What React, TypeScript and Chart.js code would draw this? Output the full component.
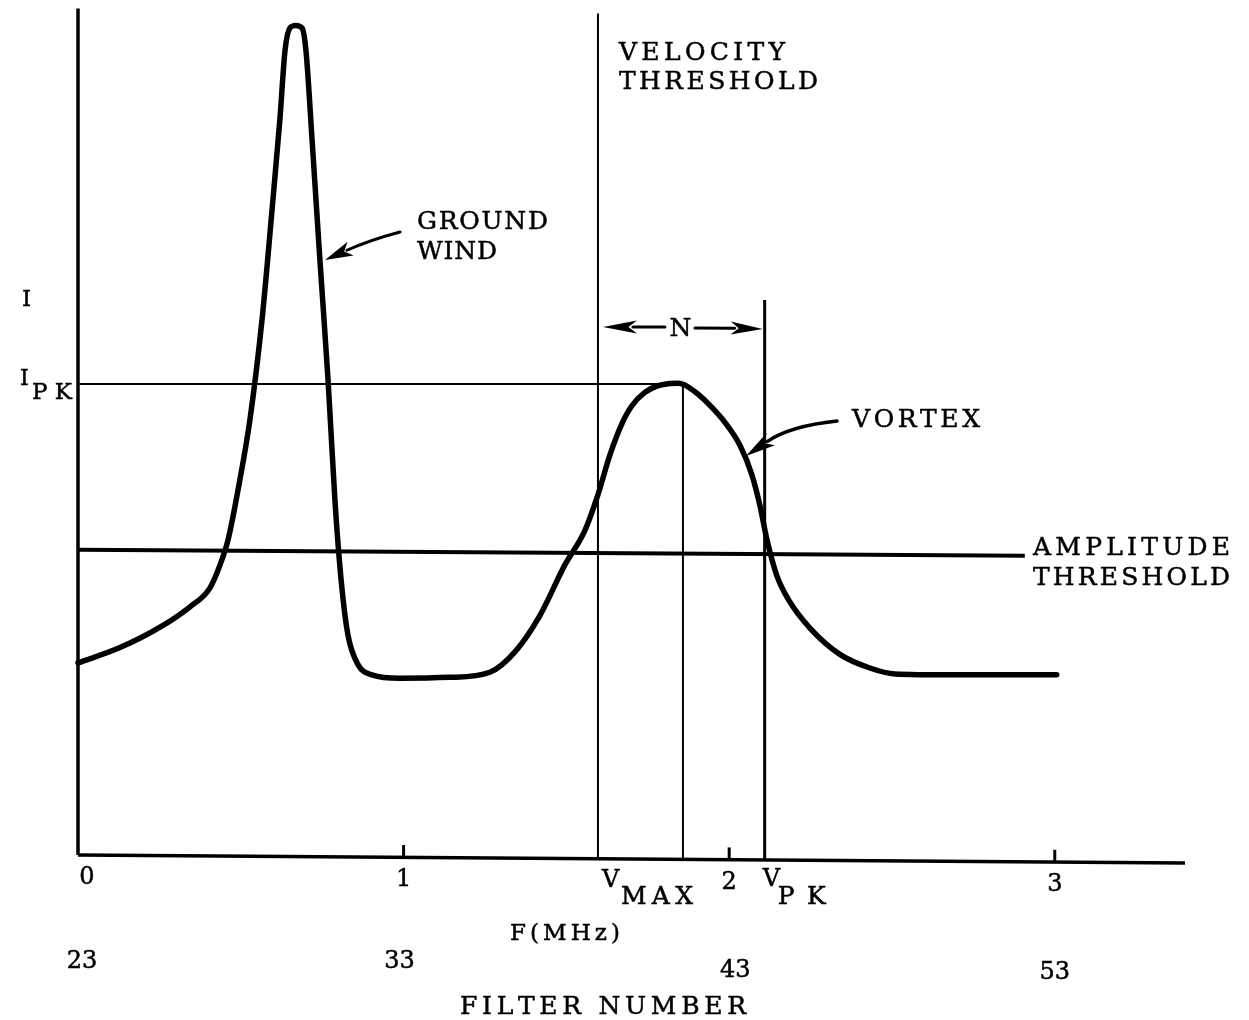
import React, { useEffect, useRef } from "react";
import { Chart, registerables } from "chart.js";

Chart.register(...registerables);

const WIDTH = 1249;
const HEIGHT = 1020;

// Detector output versus Doppler frequency (MHz); intensity as percent of plot height
const responseFreq = [
  0, 0.129, 0.252, 0.344, 0.405, 0.436, 0.461, 0.497, 0.528, 0.565, 0.596, 0.62, 0.636, 0.651,
  0.669, 0.688, 0.7, 0.719, 0.743, 0.768, 0.789, 0.808, 0.829, 0.86, 0.903, 0.989, 1.142, 1.265,
  1.342, 1.419, 1.495, 1.557, 1.597, 1.634, 1.67, 1.7, 1.74, 1.78, 1.812, 1.845, 1.895, 1.941,
  1.987, 2.033, 2.07, 2.094, 2.116, 2.146, 2.186, 2.248, 2.34, 2.432, 2.509, 2.678, 3.006,
];
const responseIntensity = [
  22.6, 24.4, 26.8, 29.2, 31.4, 34.1, 37.1, 44.1, 51.2, 62.9, 75.9, 86.5, 94.7, 97.3, 97.6, 97.3,
  94.7, 84.1, 70.0, 55.9, 41.8, 32.4, 25.9, 22.4, 21.2, 20.8, 20.9, 21.5, 23.9, 28.2, 34.1, 38.2,
  42.4, 47.1, 50.7, 52.8, 54.4, 55.2, 55.45, 55.5, 54.5, 52.9, 50.9, 48.2, 44.7, 41.2, 37.1, 32.9,
  29.8, 26.7, 23.6, 22.0, 21.3, 21.2, 21.2,
];

// Thresholds and peak markers
const amplitudeThresholdFreq = [0, 2.908];
const amplitudeThresholdLevel = [35.9, 35.2];
const velocityThresholdFreq = 1.597;
const velocityThresholdTop = 99.0;
const peakFreq = 1.858;
const peakIntensity = 55.4;
const vPeakFreq = 2.109;
const vPeakTop = 65.3;

// Axes
const freqMax = 3.4;
const axisTop = 99.6;
const baselineDrop = -0.95; // the frequency axis runs slightly downhill to the right
const freqTicks = [0, 1, 2, 3];
const freqTickLabels = ["0", "1", "2", "3"];
const filterNumbers = ["23", "33", "43", "53"];

const axisLevel = (f: number) => (baselineDrop * f) / freqMax;

const seg = (x1: number, y1: number, x2: number, y2: number, w: number) => ({
  data: [
    { x: x1, y: y1 },
    { x: x2, y: y2 },
  ],
  borderColor: "#000",
  borderWidth: w,
  pointRadius: 0,
  borderCapStyle: "butt" as const,
  clip: false as const,
});

const SERIF = '"DejaVu Serif", "Liberation Serif", serif';

function spaced(
  ctx: CanvasRenderingContext2D,
  text: string,
  left: number,
  baseline: number,
  width: number,
  size: number,
  family = SERIF
) {
  ctx.font = `${size}px ${family}`;
  const chars = Array.from(text);
  const ws = chars.map((c) => ctx.measureText(c).width);
  const total = ws.reduce((a, b) => a + b, 0);
  const gap = chars.length > 1 ? (width - total) / (chars.length - 1) : 0;
  let x = left;
  ctx.lineWidth = 0.5;
  chars.forEach((c, i) => {
    ctx.fillText(c, x, baseline);
    ctx.strokeText(c, x, baseline);
    x += ws[i] + gap;
  });
}

function centered(
  ctx: CanvasRenderingContext2D,
  text: string,
  cx: number,
  baseline: number,
  size: number,
  family = SERIF
) {
  ctx.font = `${size}px ${family}`;
  ctx.textAlign = "center";
  ctx.lineWidth = 0.5;
  ctx.fillText(text, cx, baseline);
  ctx.strokeText(text, cx, baseline);
  ctx.textAlign = "left";
}

function arrow(
  ctx: CanvasRenderingContext2D,
  tail: [number, number],
  ctrl: [number, number],
  tip: [number, number],
  headLen: number,
  halfW: number,
  lw: number
) {
  const ang = Math.atan2(tip[1] - ctrl[1], tip[0] - ctrl[0]);
  const bx = tip[0] - Math.cos(ang) * headLen;
  const by = tip[1] - Math.sin(ang) * headLen;
  ctx.beginPath();
  ctx.moveTo(tail[0], tail[1]);
  ctx.quadraticCurveTo(ctrl[0], ctrl[1], bx + Math.cos(ang) * 4, by + Math.sin(ang) * 4);
  ctx.lineWidth = lw;
  ctx.lineCap = "round";
  ctx.stroke();
  ctx.beginPath();
  ctx.moveTo(tip[0], tip[1]);
  ctx.lineTo(bx - Math.sin(ang) * halfW, by + Math.cos(ang) * halfW);
  ctx.lineTo(bx + Math.cos(ang) * headLen * 0.25, by + Math.sin(ang) * headLen * 0.25);
  ctx.lineTo(bx + Math.sin(ang) * halfW, by - Math.cos(ang) * halfW);
  ctx.closePath();
  ctx.fill();
}

const annotations = {
  id: "annotations",
  afterDatasetsDraw(chart: Chart) {
    const { ctx } = chart;
    const xs = chart.scales.x;
    const ys = chart.scales.y;
    const px = (f: number) => xs.getPixelForValue(f);
    const py = (v: number) => ys.getPixelForValue(v);
    ctx.save();
    ctx.fillStyle = "#000";
    ctx.strokeStyle = "#000";
    ctx.textBaseline = "alphabetic";

    // frequency tick labels and filter numbers
    const filterBase = [968, 968, 977, 979];
    const filterShift = [4, -4, 6, 0];
    freqTicks.forEach((f, i) => {
      const cx = px(f) + (i === 0 ? 9 : 0);
      centered(ctx, freqTickLabels[i], cx, py(axisLevel(f)) + 29, 24);
      centered(ctx, filterNumbers[i], px(f) + filterShift[i], filterBase[i], 24);
    });

    // V_MAX and V_PK markers under the axis
    const vx = px(velocityThresholdFreq);
    spaced(ctx, "V", vx + 4, 887, 14, 24);
    spaced(ctx, "MAX", vx + 23, 904, 72, 25);
    const kx = px(vPeakFreq);
    spaced(ctx, "V", kx - 2, 886, 14, 24);
    spaced(ctx, "PK", kx + 13, 904, 48, 25);

    spaced(ctx, "F(MHz)", 510, 940, 110, 23);
    spaced(ctx, "FILTER NUMBER", 460, 1014, 286, 25);

    // intensity labels
    spaced(ctx, "I", 22, 306, 8, 23);
    spaced(ctx, "I", 20, 385, 8, 22);
    spaced(ctx, "PK", 32, 399, 40, 23);

    // annotations inside the plot
    spaced(ctx, "VELOCITY", vx + 21, 60, 166, 25);
    spaced(ctx, "THRESHOLD", vx + 21, 89, 199, 25);
    spaced(ctx, "GROUND", 417, 229, 131, 25);
    spaced(ctx, "WIND", 417, 259, 80, 25);
    spaced(ctx, "VORTEX", 852, 427, 128, 25);
    spaced(ctx, "AMPLITUDE", 1033, 555, 197, 25);
    spaced(ctx, "THRESHOLD", 1033, 585, 197, 25);

    // N span between the velocity threshold and V_PK
    const ny = 327;
    centered(ctx, "N", (vx + kx) / 2 - 1, 336, 25);
    arrow(ctx, [vx + 67, ny], [vx + 40, ny], [vx + 5, ny], 34, 6.5, 3);
    arrow(ctx, [vx + 97, ny + 1], [vx + 130, ny + 1], [kx - 2, ny + 2], 32, 6.5, 3);

    // leader arrows
    arrow(ctx, [400, 232], [370, 240], [325, 260], 28, 7.5, 3);
    arrow(ctx, [837, 421], [790, 426], [746, 456], 30, 7.5, 3.5);

    ctx.restore();
  },
};

export default function App() {
  const ref = useRef<HTMLCanvasElement>(null);

  useEffect(() => {
    if (!ref.current) return;
    const response = responseFreq.map((f, i) => ({ x: f, y: responseIntensity[i] }));
    const threshold = amplitudeThresholdFreq.map((f, i) => ({ x: f, y: amplitudeThresholdLevel[i] }));
    const tickMarks = freqTicks
      .filter((f) => f > 0)
      .map((f) => seg(f, axisLevel(f), f, axisLevel(f) + 1.45, 3));

    const chart = new Chart(ref.current, {
      type: "line",
      data: {
        datasets: [
          seg(0, 0, 0, axisTop, 3.5),
          seg(0, 0, freqMax, baselineDrop, 3.5),
          ...tickMarks,
          seg(velocityThresholdFreq, axisLevel(velocityThresholdFreq), velocityThresholdFreq, velocityThresholdTop, 2),
          seg(vPeakFreq, axisLevel(vPeakFreq), vPeakFreq, vPeakTop, 3),
          seg(0, peakIntensity, peakFreq, peakIntensity, 2),
          seg(peakFreq, peakIntensity, peakFreq, axisLevel(peakFreq), 2),
          {
            data: threshold,
            borderColor: "#000",
            borderWidth: 4,
            pointRadius: 0,
            clip: false as const,
          },
          {
            data: response,
            borderColor: "#000",
            borderWidth: 5.5,
            pointRadius: 0,
            cubicInterpolationMode: "monotone" as const,
            borderJoinStyle: "round" as const,
            borderCapStyle: "round" as const,
            clip: false as const,
          },
        ],
      },
      options: {
        responsive: false,
        animation: false,
        devicePixelRatio: 1,
        layout: { padding: { left: 78, top: 5, right: WIDTH - 1185, bottom: HEIGHT - 855 } },
        scales: {
          x: { type: "linear", min: 0, max: freqMax, display: false },
          y: { type: "linear", min: 0, max: 100, display: false },
        },
        plugins: {
          legend: { display: false },
          tooltip: { enabled: false },
        },
        events: [],
      },
      plugins: [annotations],
    });
    return () => chart.destroy();
  }, []);

  return (
    <div style={{ position: "fixed", left: 0, top: 0, width: WIDTH, height: HEIGHT, background: "#fff" }}>
      <canvas ref={ref} width={WIDTH} height={HEIGHT} style={{ width: WIDTH, height: HEIGHT, display: "block" }} />
    </div>
  );
}
